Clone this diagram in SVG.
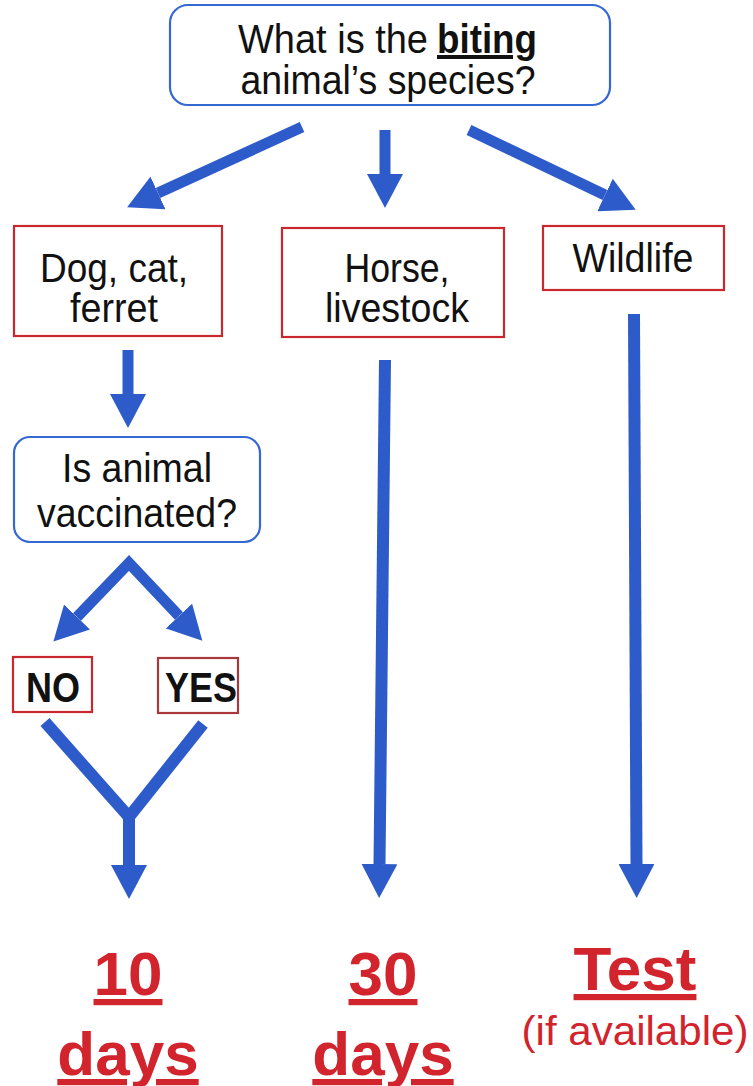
<svg xmlns="http://www.w3.org/2000/svg" width="753" height="1086" viewBox="0 0 753 1086">
<style>
.q{fill:#fff;stroke:#3568d0;stroke-width:2.2}
.r{fill:#fff;stroke:#c8282e;stroke-width:2.2}
.r2{fill:#fff;stroke:#a8383c;stroke-width:2.2}
.t{font-family:"Liberation Sans",Arial,sans-serif;font-size:40px;fill:#111;text-anchor:middle}
.s{text-anchor:start}
.b{font-weight:bold}
.res{font-family:"Liberation Sans",Arial,sans-serif;font-weight:bold;font-size:62px;fill:#d1242c;text-anchor:middle;text-decoration:underline}
.sub{font-family:"Liberation Sans",Arial,sans-serif;font-size:40px;fill:#d1242c;text-anchor:middle}
.c{fill:none;stroke:#2d5bc9;stroke-width:11;marker-end:url(#ah)}
</style>
<defs>
<marker id="ah" markerUnits="userSpaceOnUse" markerWidth="34" markerHeight="36" refX="0" refY="18" orient="auto-start-reverse" viewBox="0 0 34 36">
<path d="M0,0 L34,18 L0,36 z" fill="#2d5bc9"/>
</marker>
</defs>
<rect width="753" height="1086" fill="#fff"/>
<g id="connectors">
<line class="c" x1="302" y1="127" x2="158" y2="193"/>
<line class="c" x1="385" y1="130" x2="385" y2="174"/>
<line class="c" x1="469" y1="130" x2="605" y2="195"/>
<line class="c" x1="128" y1="350" x2="128" y2="394"/>
<path class="c" d="M77,617 L129,563 L179,616" style="marker-start:url(#ah);stroke-linejoin:miter"/>
<path class="c" d="M45,722 L129,817 L203,724" style="marker-end:none;stroke-width:12;stroke-linejoin:miter"/>
<line class="c" x1="129" y1="815" x2="129" y2="865" style="stroke-width:12"/>
<line class="c" x1="385" y1="360" x2="379.5" y2="864" style="stroke-width:12"/>
<line class="c" x1="634" y1="314" x2="636.5" y2="864" style="stroke-width:12"/>
</g>
<g id="q-species">
<rect class="q" x="170" y="5" width="440" height="100" rx="18"/>
<text class="t s" x="238" y="53" textLength="190" lengthAdjust="spacingAndGlyphs">What is the</text>
<text class="t s b" x="437" y="53" textLength="100" lengthAdjust="spacingAndGlyphs" text-decoration="underline">biting</text>
<text class="t" x="388" y="94" textLength="295" lengthAdjust="spacingAndGlyphs">animal’s species?</text>
</g>
<g id="n-dog">
<rect class="r" x="14" y="226" width="208" height="110"/>
<text class="t" x="114" y="282" textLength="148" lengthAdjust="spacingAndGlyphs">Dog, cat,</text>
<text class="t" x="114" y="322" textLength="88" lengthAdjust="spacingAndGlyphs">ferret</text>
</g>
<g id="n-horse">
<rect class="r" x="282" y="228" width="222" height="109"/>
<text class="t" x="397" y="282" textLength="105" lengthAdjust="spacingAndGlyphs">Horse,</text>
<text class="t" x="397" y="322" textLength="144" lengthAdjust="spacingAndGlyphs">livestock</text>
</g>
<g id="n-wild">
<rect class="r" x="543" y="226" width="181" height="64"/>
<text class="t" x="633" y="272" textLength="121" lengthAdjust="spacingAndGlyphs">Wildlife</text>
</g>
<g id="q-vacc">
<rect class="q" x="14" y="437" width="246" height="105" rx="16"/>
<text class="t" x="137" y="482" textLength="150" lengthAdjust="spacingAndGlyphs">Is animal</text>
<text class="t" x="137" y="527" textLength="200" lengthAdjust="spacingAndGlyphs">vaccinated?</text>
</g>
<g id="n-no">
<rect class="r" x="13" y="657" width="79" height="55"/>
<text class="t b" x="53" y="702" style="font-size:42px" textLength="54" lengthAdjust="spacingAndGlyphs">NO</text>
</g>
<g id="n-yes">
<rect class="r2" x="158" y="658" width="80" height="55"/>
<text class="t b" x="201" y="702" style="font-size:42px" textLength="72" lengthAdjust="spacingAndGlyphs">YES</text>
</g>
<g id="r-10">
<text class="res" x="128" y="995">10</text>
<text class="res" x="128" y="1075">days</text>
</g>
<g id="r-30">
<text class="res" x="383" y="995">30</text>
<text class="res" x="383" y="1075">days</text>
</g>
<g id="r-test">
<text class="res" x="635" y="990">Test</text>
<text class="sub" x="635" y="1045" textLength="227" lengthAdjust="spacingAndGlyphs">(if available)</text>
</g>
</svg>
